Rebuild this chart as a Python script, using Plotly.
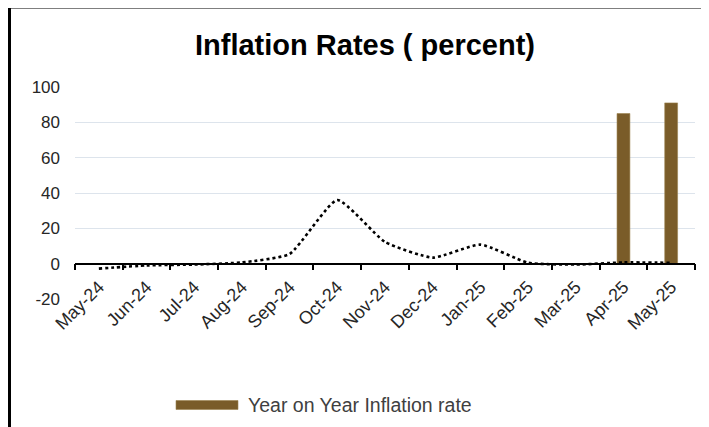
import plotly.graph_objects as go

# ---- data ----
months = ["May-24", "Jun-24", "Jul-24", "Aug-24", "Sep-24", "Oct-24", "Nov-24",
          "Dec-24", "Jan-25", "Feb-25", "Mar-25", "Apr-25", "May-25"]
mom_rate = [-2.8, -1.0, -0.5, 0.7, 5.5, 36.0, 12.3, 3.4, 10.8, 0.5, -0.5, 0.7, 0.5]
yoy_rate = [None, None, None, None, None, None, None, None, None, None, None, 85.0, 91.0]
y_ticks = [-20, 0, 20, 40, 60, 80, 100]
y_tick_labels = ["-20", "0", "20", "40", "60", "80", "100"]

title_text = "Inflation Rates ( percent)"
legend_text = "Year on Year Inflation rate"

# ---- layout geometry (pixels of the 709x427 window; page body adds an 8px margin) ----
OFF = 8
W, H = 709 - OFF, 427 - OFF
L, R, T, B = 75 - OFF, 695 - OFF, 87 - OFF, 299 - OFF
FONT = "Liberation Sans, Arial, sans-serif"
BROWN = "#7a5c29"


def px_x(p):
    return (p - OFF - L) / (R - L)


def px_y(p):
    return (B - (p - OFF)) / (B - T)


fig = go.Figure()

fig.add_trace(go.Bar(
    x=months, y=yoy_rate, name=legend_text,
    marker=dict(color=BROWN, line=dict(color="#9c8350", width=0.6)),
    width=0.27, showlegend=False,
))

fig.add_trace(go.Scatter(
    x=months, y=mom_rate, mode="lines", name="Month on Month",
    line=dict(color="black", width=2.6, dash="dot", shape="spline", smoothing=0.5),
    showlegend=False,
))

y_min, y_max = y_ticks[0], y_ticks[-1]
zero_pos = (0 - y_min) / (y_max - y_min)

fig.update_layout(
    width=W, height=H,
    margin=dict(l=L, r=W - R, t=T, b=H - B, pad=0),
    paper_bgcolor="white", plot_bgcolor="white",
    font=dict(family=FONT, color="#262626"),
    title=dict(text="<b>" + title_text + "</b>", x=(365 - OFF) / W, xanchor="center",
               y=1 - (45 - OFF) / H, yanchor="middle", xref="container", yref="container",
               font=dict(size=29, color="black", family=FONT)),
    xaxis=dict(
        type="category", categoryorder="array", categoryarray=months,
        anchor="free", position=zero_pos,
        showline=True, linecolor="black", linewidth=1.5,
        ticks="outside", tickson="boundaries", ticklen=6, tickcolor="black", tickwidth=1.5,
        tickangle=-45, tickfont=dict(size=18, color="#262626"), ticklabelstandoff=5,
        showgrid=False, zeroline=False,
    ),
    yaxis=dict(
        range=[y_min, y_max], tickvals=y_ticks, ticktext=y_tick_labels, ticks="",
        showgrid=True, gridcolor="#dde4ec", gridwidth=1.2,
        zeroline=False, showline=False,
        tickfont=dict(size=17, color="#262626"), ticklabelstandoff=14,
    ),
    bargap=0.7,
)

# frame lines (top and left border of the chart box)
fig.add_shape(type="line", xref="paper", yref="paper",
              x0=px_x(8), x1=px_x(715), y0=px_y(7), y1=px_y(7),
              line=dict(color="black", width=3))
fig.add_shape(type="line", xref="paper", yref="paper",
              x0=px_x(9.5), x1=px_x(9.5), y0=px_y(6), y1=px_y(430),
              line=dict(color="black", width=3))

# legend (swatch + label)
fig.add_shape(type="rect", xref="paper", yref="paper",
              x0=px_x(176), x1=px_x(238), y0=px_y(409.5), y1=px_y(400.5),
              fillcolor=BROWN, line=dict(color="#9c8350", width=0.6))
fig.add_annotation(text=legend_text, xref="paper", yref="paper",
                   x=px_x(246), y=px_y(405), xanchor="left", yanchor="middle",
                   showarrow=False, font=dict(size=19.5, color="#404040", family=FONT))

fig.write_html("out.html")
